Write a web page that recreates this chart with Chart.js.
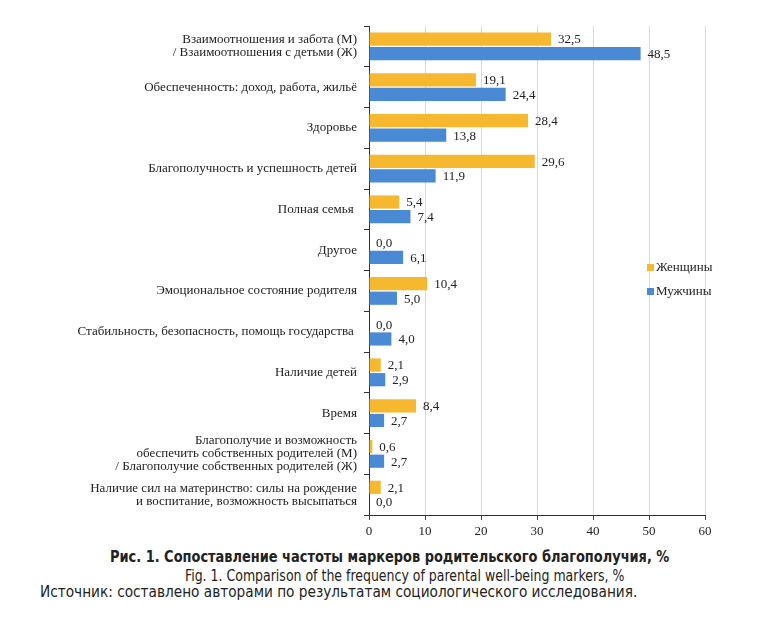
<!DOCTYPE html>
<html>
<head>
<meta charset="utf-8">
<script src="https://cdn.jsdelivr.net/npm/chart.js@4"></script>
<style>
  body { margin: 0; background: #fff; }
  #wrap { position: relative; width: 782px; height: 617px; }
  #chart { position: absolute; left: 0; top: 0; }
  .cap { position: absolute; font-family: "DejaVu Sans Condensed", "Liberation Sans", sans-serif; color: #222; white-space: nowrap; font-size: 16px; transform-origin: left top; }
  #cap1 { top: 547px; left: 110px; font-weight: bold; transform: scaleX(0.9); }
  #cap2 { top: 566px; left: 185px; transform: scaleX(0.87); }
  #cap3 { top: 582px; left: 40px; transform: scaleX(0.95); }
</style>
</head>
<body>
<div id="wrap">
  <canvas id="chart" width="782" height="545"></canvas>
  <div class="cap" id="cap1">Рис. 1. Сопоставление частоты маркеров родительского благополучия, %</div>
  <div class="cap" id="cap2">Fig. 1. Comparison of the frequency of parental well-being markers, %</div>
  <div class="cap" id="cap3">Источник: составлено авторами по результатам социологического исследования.</div>
</div>
<script>
const categories = [
  ["Взаимоотношения и забота (М)", "/ Взаимоотношения с детьми (Ж)"],
  "Обеспеченность: доход, работа, жильё",
  "Здоровье",
  "Благополучность и успешность детей",
  "Полная семья ",
  "Другое",
  "Эмоциональное состояние родителя",
  "Стабильность, безопасность, помощь государства ",
  "Наличие детей",
  "Время",
  ["Благополучие и возможность", "обеспечить собственных родителей (М)", "/ Благополучие собственных родителей (Ж)"],
  ["Наличие сил на материнство: силы на рождение", "и воспитание, возможность высыпаться"]
];
const women = [32.5, 19.1, 28.4, 29.6, 5.4, 0.0, 10.4, 0.0, 2.1, 8.4, 0.6, 2.1];
const men = [48.5, 24.4, 13.8, 11.9, 7.4, 6.1, 5.0, 4.0, 2.9, 2.7, 2.7, 0.0];
const seriesNames = ["Женщины", "Мужчины"];
const colors = ["#F5B82E", "#4A89D3"];

const serif = "'Liberation Serif', 'DejaVu Serif', serif";

// Function to write values next to bar ends
const valueLabels = {
  id: "valueLabels",
  afterDatasetsDraw(chart) {
    const ctx = chart.ctx;
    ctx.save();
    ctx.font = "13px " + serif;
    ctx.fillStyle = "#222";
    ctx.textAlign = "left";
    ctx.textBaseline = "middle";
    chart.data.datasets.forEach((ds, i) => {
      chart.getDatasetMeta(i).data.forEach((bar, j) => {
        ctx.fillText(ds.data[j].toFixed(1).replace(".", ","), bar.x + 7, bar.y + 1);
      });
    });
    ctx.restore();
  }
};

// Legend drawn inside the plot, right side
const sideLegend = {
  id: "sideLegend",
  afterDraw(chart) {
    const ctx = chart.ctx;
    ctx.save();
    ctx.font = "13px " + serif;
    ctx.textBaseline = "middle";
    seriesNames.forEach((name, i) => {
      const y = 268 + i * 24;
      ctx.fillStyle = colors[i];
      ctx.fillRect(647, y - 4, 7, 7);
      ctx.fillStyle = "#222";
      ctx.fillText(name, 656, y);
    });
    ctx.restore();
  }
};

new Chart(document.getElementById("chart"), {
  type: "bar",
  data: {
    labels: categories,
    datasets: seriesNames.map((name, i) => ({
      label: name,
      data: i === 0 ? women : men,
      backgroundColor: colors[i],
      categoryPercentage: 0.72,
      barPercentage: 0.9
    }))
  },
  options: {
    indexAxis: "y",
    responsive: false,
    animation: false,
    layout: { padding: { top: 26, right: 77, left: 0, bottom: 0 } },
    plugins: { legend: { display: false }, tooltip: { enabled: false } },
    scales: {
      x: {
        min: 0,
        max: 60,
        ticks: { stepSize: 10, color: "#222", font: { family: serif, size: 13 }, padding: 4 },
        grid: { color: "#d9d9d9", tickColor: "#444", tickLength: 5 },
        border: { color: "#333", width: 1 },
        afterFit(scale) { scale.height = 30; }
      },
      y: {
        ticks: { color: "#222", font: { family: serif, size: 13, lineHeight: 1.0 }, padding: 7, autoSkip: false },
        grid: { drawOnChartArea: false, tickColor: "#333", tickLength: 5 },
        border: { color: "#333", width: 1 },
        afterFit(scale) { scale.width = 369; }
      }
    }
  },
  plugins: [valueLabels, sideLegend]
});
</script>
</body>
</html>
